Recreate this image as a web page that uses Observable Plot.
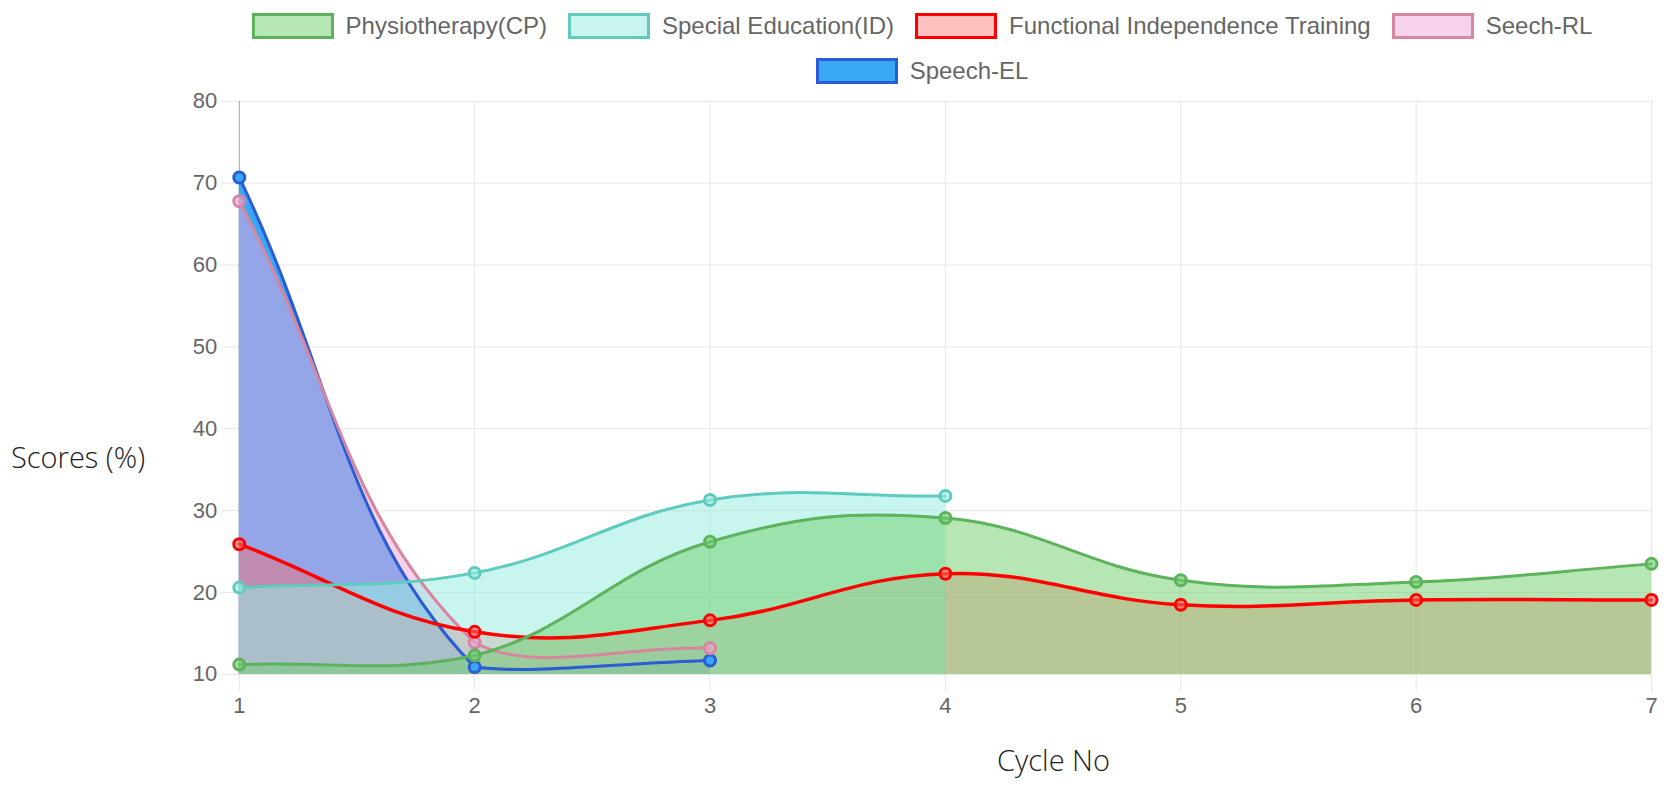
<!DOCTYPE html>
<html>
<head>
<meta charset="utf-8">
<script src="https://cdn.jsdelivr.net/npm/d3@7"></script>
<script src="https://cdn.jsdelivr.net/npm/@observablehq/plot@0.6"></script>
<style>
  html, body { margin: 0; padding: 0; background: #fff; }
  #wrap { position: relative; width: 1664px; height: 786px; overflow: hidden; }
  #chart { position: absolute; left: 0; top: 0; }
  .legend-row { position: absolute; left: 180px; width: 1484px; display: flex; justify-content: center; gap: 21px;
    font-family: "Liberation Sans", Arial, Helvetica, sans-serif; font-size: 24px; color: #666; }
  .item { display: flex; align-items: center; gap: 12px; white-space: nowrap; }
  .box { width: 82px; height: 26px; box-sizing: border-box; border: 3px solid; }
  .axis-title { position: absolute; font-family: "Open Sans", "Noto Sans", sans-serif; font-weight: 300; font-size: 29px; color: #222; white-space: nowrap; line-height: 1; }
</style>
</head>
<body>
<div id="wrap">
  <div id="chart"></div>
  <div class="legend-row" id="row1" style="top:12px;"></div>
  <div class="legend-row" id="row2" style="top:57px;"></div>
  <div class="axis-title" id="ytitle" style="left:11px; top:442px;"></div>
  <div class="axis-title" id="xtitle" style="left:997px; top:745px;"></div>
</div>
<script>
// ---- data ----
const cycles = [1, 2, 3, 4, 5, 6, 7];
const seriesNames = ["Physiotherapy(CP)", "Special Education(ID)", "Functional Independence Training", "Seech-RL", "Speech-EL"];
const physiotherapy = [11.2, 12.3, 26.2, 29.1, 21.5, 21.3, 23.5];
const specialEducation = [20.6, 22.4, 31.3, 31.8];
const functionalIndependence = [25.9, 15.2, 16.6, 22.3, 18.5, 19.1, 19.1];
const speechRL = [67.8, 13.9, 13.2];
const speechEL = [70.7, 10.9, 11.7];
const yTicks = [10, 20, 30, 40, 50, 60, 70, 80];
const yTitle = "Scores (%)";
const xTitle = "Cycle No";

// ---- styles ----
const styles = [
  {line: "#5cb35c", fill: "rgb(111,205,107)", fillOpacity: 0.5, width: 3},
  {line: "#5ecbbe", fill: "rgb(151,238,225)", fillOpacity: 0.53, width: 3},
  {line: "#ff0000", fill: "rgb(255,100,95)", fillOpacity: 0.4, width: 3.5},
  {line: "#d6869f", fill: "rgb(237,165,217)", fillOpacity: 0.5, width: 3},
  {line: "#2a5cd6", fill: "rgb(58,167,245)", fillOpacity: 1, width: 3}
];
const valuesList = [physiotherapy, specialEducation, functionalIndependence, speechRL, speechEL];
const series = valuesList.map((vals, k) => vals.map((v, i) => ({x: cycles[i], y: v, name: seriesNames[k]})));

// ---- layout ----
const W = 1664, H = 786, mL = 238.8, mR = 13, mT = 100.8, mB = 112.1;
const bounds = {left: mL, right: W - mR, top: mT, bottom: H - mB};

// Chart.js-like bezier spline (tension 0.4, capped to chart area)
function chartjsCurve(b, t = 0.4) {
  const clamp = (v, lo, hi) => Math.max(lo, Math.min(hi, v));
  return function(context) {
    let pts = [], line;
    return {
      areaStart() { line = 0; },
      areaEnd() { line = NaN; },
      lineStart() { pts = []; },
      lineEnd() {
        const n = pts.length;
        if (n) {
          if (line) context.lineTo(pts[0][0], pts[0][1]); else context.moveTo(pts[0][0], pts[0][1]);
          if (n === 2) context.lineTo(pts[1][0], pts[1][1]);
          else if (n > 2) {
            const cps = pts.map((p, i) => {
              const prev = pts[i - 1] || p, next = pts[i + 1] || p;
              const d01 = Math.hypot(p[0] - prev[0], p[1] - prev[1]);
              const d12 = Math.hypot(next[0] - p[0], next[1] - p[1]);
              let s01 = d01 / (d01 + d12), s12 = d12 / (d01 + d12);
              if (isNaN(s01)) s01 = 0; if (isNaN(s12)) s12 = 0;
              const fa = t * s01, fb = t * s12;
              const c1 = [p[0] - fa * (next[0] - prev[0]), p[1] - fa * (next[1] - prev[1])];
              const c2 = [p[0] + fb * (next[0] - prev[0]), p[1] + fb * (next[1] - prev[1])];
              return [c1, c2].map(c => [clamp(c[0], b.left, b.right), clamp(c[1], b.top, b.bottom)]);
            });
            for (let i = 1; i < n; i++) {
              context.bezierCurveTo(cps[i - 1][1][0], cps[i - 1][1][1], cps[i][0][0], cps[i][0][1], pts[i][0], pts[i][1]);
            }
          }
        }
        if (line || (line !== 0 && n === 1)) context.closePath();
        line = 1 - line;
      },
      point(x, y) { pts.push([+x, +y]); }
    };
  };
}
const curve = chartjsCurve(bounds, 0.4);
const tickFont = "Liberation Sans, Arial, Helvetica, sans-serif";

const order = [4, 3, 2, 1, 0]; // last dataset drawn first (Chart.js)
const marks = [
  Plot.gridX(cycles, {stroke: "#e6e6e6", strokeOpacity: 1}),
  Plot.gridY(yTicks, {stroke: "#e6e6e6", strokeOpacity: 1}),
  Plot.axisY({ticks: yTicks, tickSize: 18, tickPadding: 4, stroke: "#e6e6e6", strokeOpacity: 1, fill: "#666", fontSize: 22, fontFamily: tickFont, label: null}),
  Plot.axisX({ticks: cycles, tickSize: 17, tickPadding: 6, stroke: "#e6e6e6", strokeOpacity: 1, fill: "#666", fontSize: 22, fontFamily: tickFont, label: null, tickFormat: d3.format("d")}),
  Plot.ruleX([1], {stroke: "#aaaaaa"}),
  ...order.map(k => Plot.areaY(series[k], {x: "x", y1: 10, y2: "y", fill: styles[k].fill, fillOpacity: styles[k].fillOpacity, curve})),
  ...order.map(k => Plot.line(series[k], {x: "x", y: "y", stroke: styles[k].line, strokeWidth: styles[k].width, curve})),
  ...order.map(k => Plot.dot(series[k], {x: "x", y: "y", r: 5.5, stroke: styles[k].line, strokeWidth: 3, fill: styles[k].fill, fillOpacity: k === 4 ? 1 : 0.6}))
];

const svg = Plot.plot({
  width: W, height: H,
  marginLeft: mL, marginRight: mR, marginTop: mT, marginBottom: mB,
  x: {domain: [1, 7]},
  y: {domain: [10, 80]},
  style: {background: "transparent", fontFamily: tickFont},
  marks
});
document.getElementById("chart").appendChild(svg);

// legend
function addItem(row, k) {
  const it = document.createElement("div"); it.className = "item";
  const bx = document.createElement("div"); bx.className = "box";
  const c = d3.color(styles[k].fill); c.opacity = Math.min(1, styles[k].fillOpacity);
  bx.style.background = c.formatRgb(); bx.style.borderColor = styles[k].line;
  const tx = document.createElement("span"); tx.textContent = seriesNames[k];
  it.appendChild(bx); it.appendChild(tx); row.appendChild(it);
}
const r1 = document.getElementById("row1"), r2 = document.getElementById("row2");
[0, 1, 2, 3].forEach(k => addItem(r1, k));
[4].forEach(k => addItem(r2, k));
document.getElementById("ytitle").textContent = yTitle;
document.getElementById("xtitle").textContent = xTitle;
</script>
</body>
</html>
